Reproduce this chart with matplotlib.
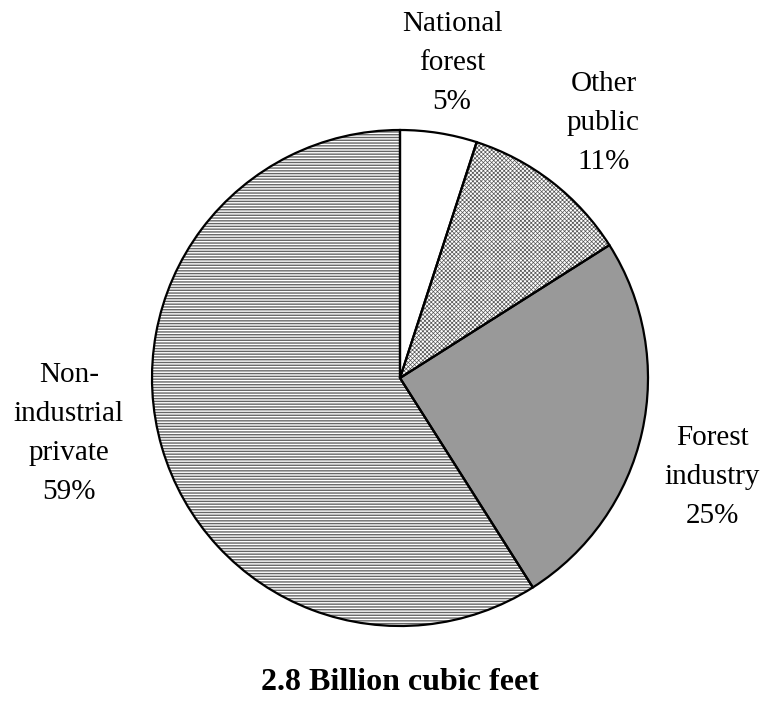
import matplotlib
matplotlib.use("Agg")
import matplotlib.pyplot as plt

categories = ["National\nforest", "Other\npublic", "Forest\nindustry", "Non-\nindustrial\nprivate"]
values = [5, 11, 25, 59]
title = "2.8 Billion cubic feet"

face_colors = ["white", "white", "#999999", "white"]
hatches = [None, "xxxxxxxx", None, "------"]
hatch_colors = ["black", "#555555", "#999999", "#666666"]
hatch_lws = [0.5, 0.5, 0.5, 1.0]
label_pos = [(0.21, 1.27), (0.82, 1.03), (1.26, -0.40), (-1.335, -0.225)]

plt.rcParams["font.family"] = ["Liberation Serif", "DejaVu Serif"]
plt.rcParams["hatch.linewidth"] = 0.8

fig = plt.figure(figsize=(7.65, 7.21), dpi=100)
W, H = 765, 721
cx, cy, r = 400, 378, 248
ax = fig.add_axes([(cx - r) / W, 1 - (cy + r) / H, 2 * r / W, 2 * r / H])

wedges, _ = ax.pie(values, startangle=90, counterclock=False, colors=face_colors,
                   wedgeprops=dict(linewidth=0))
for w, h, hc, hl in zip(wedges, hatches, hatch_colors, hatch_lws):
    if h:
        w.set_hatch(h)
        w.set_edgecolor(hc)
        w.set_linewidth(0)
        try:
            w.set_hatch_linewidth(hl)
        except Exception:
            pass

ax.pie(values, startangle=90, counterclock=False,
       wedgeprops=dict(facecolor="none", edgecolor="black", linewidth=1.6))

for cat, v, (x, y) in zip(categories, values, label_pos):
    ax.text(x, y, f"{cat}\n{v}%", ha="center", va="center", fontsize=21,
            linespacing=1.65)

ax.set_xlim(-1, 1)
ax.set_ylim(-1, 1)
ax.set_aspect("equal")
ax.axis("off")

fig.text(400 / W, 1 - 682 / H, title, ha="center", va="center",
         fontsize=23, fontweight="bold")

fig.savefig("out.png", dpi=100)
